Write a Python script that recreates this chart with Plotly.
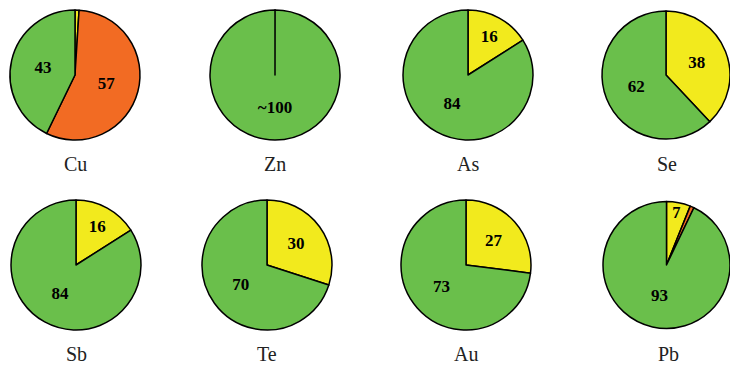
import plotly.graph_objects as go

W, H = 730, 366

GREEN = '#6abf4b'
ORANGE = '#f26b23'
YELLOW = '#f2ea1d'

# element names, slices listed clockwise from 12 o'clock
elements = ['Cu', 'Zn', 'As', 'Se', 'Sb', 'Te', 'Au', 'Pb']

cu_values = [1.0, 56.2, 42.8]
cu_colors = [YELLOW, ORANGE, GREEN]
cu_text = ['', '57', '43']

zn_values = [0.02, 99.98]
zn_colors = [YELLOW, GREEN]
zn_text = ['', '~100']

as_values = [16, 84]
se_values = [38, 62]
sb_values = [16, 84]
te_values = [30, 70]
au_values = [27, 73]

pb_values = [6.1, 1.0, 92.9]
pb_colors = [YELLOW, ORANGE, GREEN]
pb_text = ['7', '', '93']

two_colors = [YELLOW, GREEN]

series = {
    'Cu': (cu_values, cu_colors, cu_text),
    'Zn': (zn_values, zn_colors, zn_text),
    'As': (as_values, two_colors, [str(v) for v in as_values]),
    'Se': (se_values, two_colors, [str(v) for v in se_values]),
    'Sb': (sb_values, two_colors, [str(v) for v in sb_values]),
    'Te': (te_values, two_colors, [str(v) for v in te_values]),
    'Au': (au_values, two_colors, [str(v) for v in au_values]),
    'Pb': (pb_values, pb_colors, pb_text),
}

# pie centres in pixels and radius
centres = {
    'Cu': (75, 75), 'Zn': (275, 75), 'As': (468, 75), 'Se': (667, 75),
    'Sb': (76, 265), 'Te': (267, 265), 'Au': (466, 265), 'Pb': (668, 265),
}
R = 65

fig = go.Figure()
for name in elements:
    vals, cols, txt = series[name]
    cx, cy = centres[name]
    x0 = max(0, (cx - R) / W)
    x1 = min(1, (cx + R) / W)
    y0 = (H - cy - R) / H
    y1 = (H - cy + R) / H
    fig.add_trace(go.Pie(
        values=vals,
        text=txt,
        textinfo='text',
        textposition='inside',
        insidetextorientation='horizontal',
        insidetextfont=dict(family='Liberation Serif', size=17, color='black',
                            weight='bold'),
        marker=dict(colors=cols, line=dict(color='black', width=1.5)),
        sort=False,
        direction='clockwise',
        rotation=0,
        domain=dict(x=[x0, x1], y=[y0, y1]),
        showlegend=False,
        hovertemplate=name + ': %{value}<extra></extra>',
    ))
    # element name under each pie
    fig.add_annotation(
        x=cx / W, y=(H - cy - R - 24) / H,
        xref='paper', yref='paper',
        xanchor='center', yanchor='middle',
        text=name, showarrow=False,
        font=dict(family='Liberation Serif', size=20, color='#222222'),
    )

fig.update_layout(
    width=W, height=H,
    margin=dict(l=0, r=0, t=0, b=0),
    paper_bgcolor='white',
    plot_bgcolor='white',
)

# drop the default page margin so the figure fills the window
fig.write_html(
    "out.html",
    config={'displayModeBar': False},
    post_script="document.body.style.margin='0';document.body.style.overflow='hidden';",
)
